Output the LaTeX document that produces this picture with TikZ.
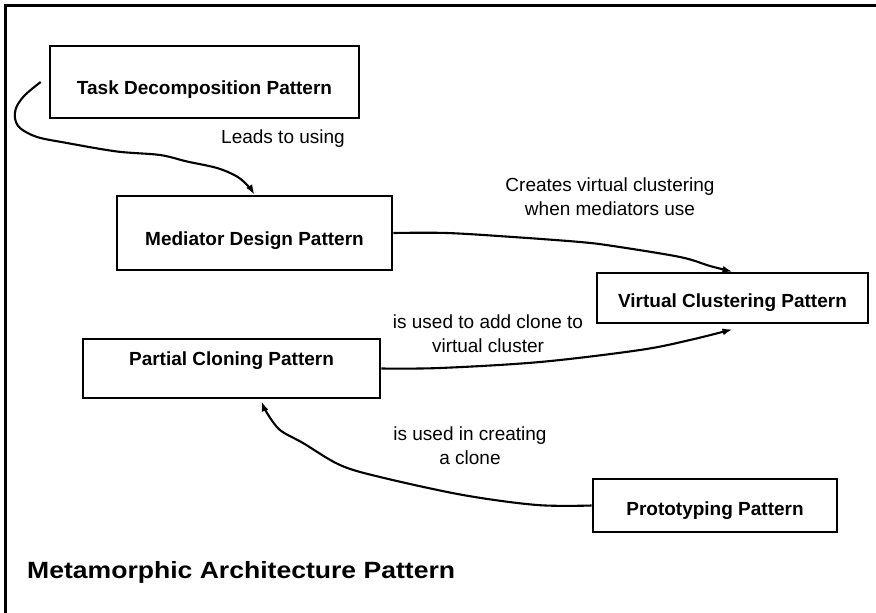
\documentclass[tikz,border=0pt]{standalone}
\usepackage{fontspec}
\setmainfont{Liberation Sans}
\usetikzlibrary{arrows.meta}

\tikzset{
  patternbox/.style={draw, line width=2.6pt, inner sep=0pt,
    font=\bfseries\fontsize{19}{23}\selectfont},
  relabel/.style={align=center, inner sep=0pt,
    font=\fontsize{19}{24}\selectfont},
  conn/.style={line width=2.1pt, line join=round,
    -{Latex[length=10pt,width=7pt]}},
  frame/.style={line width=3pt},
}

\begin{document}
\begin{tikzpicture}[x=1pt, y=-1pt]
\useasboundingbox (0,0) rectangle (876,613);

% open frame (top and left edges)
\draw[frame] (876,5) -- (5,5) -- (5,613);

% pattern boxes
\node[patternbox, minimum width=309pt, minimum height=72pt,
      text height=24.6pt, text depth=0pt] (task) at (204.5,82)
      {Task Decomposition Pattern};
\node[patternbox, minimum width=275pt, minimum height=74pt,
      text height=24pt, text depth=0pt] (med) at (254.5,233)
      {Mediator Design Pattern};
\node[patternbox, minimum width=271pt, minimum height=50pt,
      text height=18pt, text depth=0pt] (virt) at (732.5,298)
      {Virtual Clustering Pattern};
\node[patternbox, minimum width=297pt, minimum height=59pt,
      text height=0pt, text depth=5.6pt] (partial) at (231.5,368.5)
      {Partial Cloning Pattern};
\node[patternbox, minimum width=244pt, minimum height=53pt,
      text height=19pt, text depth=0pt] (proto) at (715,505.5)
      {Prototyping Pattern};

% relation labels (base = baseline of the last line)
\node[relabel, anchor=base] (lleads) at (283,143) {Leads to using};
\node[relabel, anchor=base] (lcreates) at (610,215)
      {Creates virtual clustering\\when mediators use};
\node[relabel, anchor=base] (ladd) at (488,352)
      {is used to add clone to\\virtual cluster};
\node[relabel, anchor=base] (lcreating) at (470,464)
      {is used in creating\\a clone};

% connectors
\draw[conn] plot[smooth, tension=0.55] coordinates {
  ([xshift=-8pt]task.west) (25,95) (16.5,107) (15,118) (20,128)
  (37,137) (67,143) (117,151.5) (160,155) (187,161.5) (217,168)
  (237,176.5) (248.5,186.5) (med.north)};
\draw[conn] plot[smooth, tension=0.55] coordinates {
  (med.east) (447,233) (513,237) (580,242) (613,246) (680,257)
  (710,266) (virt.north)};
\draw[conn] plot[smooth, tension=0.55] coordinates {
  (partial.east) (440,368) (540,362) (640,350) (690,340)
  ([yshift=-5pt]virt.south)};
\draw[conn] plot[smooth, tension=0.55] coordinates {
  (proto.west) (537,505) (463,495) (380,477) (340,465) (303,443)
  (280,430) (267,413) ([xshift=30pt,yshift=-2pt]partial.south)};

% diagram title
\node[anchor=base west, inner sep=0pt,
      font=\bfseries\fontsize{23.5}{28}\selectfont] (title) at (27,578)
      {\scalebox{1.13}[1]{Metamorphic Architecture Pattern}};
\end{tikzpicture}
\end{document}
